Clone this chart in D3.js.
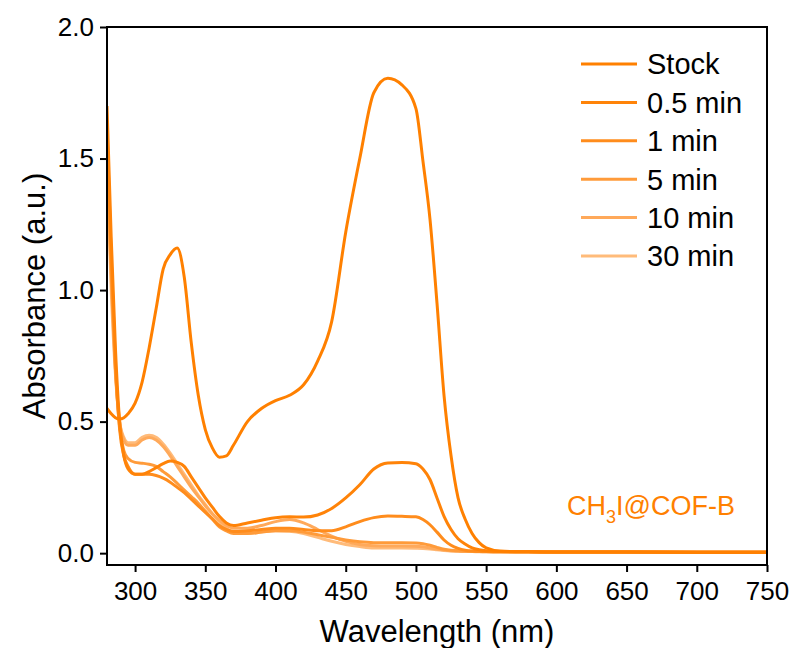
<!DOCTYPE html>
<html>
<head>
<meta charset="utf-8">
<script src="https://cdn.jsdelivr.net/npm/d3@7"></script>
<style>
  html, body { margin: 0; padding: 0; background: #ffffff; }
  svg { display: block; font-family: "Liberation Sans", Arial, sans-serif; }
</style>
</head>
<body>
<svg id="chart" width="793" height="648"></svg>
<script>
// Wavelength grid (nm) shared by all spectra
const wavelength = [280, 283, 286, 289, 292, 295, 300, 305, 310, 315, 320, 325, 330, 335, 340, 345, 350, 355, 360, 365, 370, 380, 390, 400, 410, 420, 430, 440, 450, 460, 470, 480, 490, 500, 505, 510, 515, 520, 525, 530, 535, 540, 545, 550, 560, 580, 600, 650, 700, 750];

// Absorbance (a.u.) for each sampling time
const stock   = [0.55, 0.53, 0.515, 0.51, 0.515, 0.53, 0.57, 0.65, 0.78, 0.93, 1.08, 1.135, 1.16, 1.05, 0.80, 0.60, 0.47, 0.40, 0.365, 0.37, 0.41, 0.50, 0.55, 0.58, 0.60, 0.64, 0.73, 0.88, 1.22, 1.50, 1.75, 1.805, 1.78, 1.69, 1.49, 1.27, 0.95, 0.60, 0.37, 0.21, 0.13, 0.075, 0.04, 0.02, 0.008, 0.005, 0.004, 0.004, 0.003, 0.003];
const min0_5  = [1.70, 1.20, 0.78, 0.50, 0.37, 0.32, 0.30, 0.30, 0.31, 0.325, 0.34, 0.35, 0.345, 0.33, 0.29, 0.25, 0.21, 0.175, 0.14, 0.115, 0.105, 0.115, 0.125, 0.135, 0.138, 0.137, 0.145, 0.17, 0.21, 0.26, 0.32, 0.343, 0.345, 0.34, 0.32, 0.28, 0.21, 0.14, 0.09, 0.055, 0.035, 0.02, 0.013, 0.009, 0.006, 0.005, 0.004, 0.004, 0.003, 0.003];
const min1    = [1.62, 1.12, 0.72, 0.47, 0.37, 0.33, 0.30, 0.30, 0.30, 0.295, 0.285, 0.27, 0.25, 0.23, 0.205, 0.18, 0.155, 0.13, 0.105, 0.09, 0.082, 0.085, 0.09, 0.095, 0.095, 0.09, 0.085, 0.085, 0.10, 0.12, 0.135, 0.141, 0.14, 0.138, 0.128, 0.108, 0.08, 0.05, 0.03, 0.018, 0.011, 0.008, 0.007, 0.006, 0.005, 0.005, 0.004, 0.004, 0.003, 0.003];
const min5    = [1.55, 1.08, 0.70, 0.48, 0.39, 0.36, 0.345, 0.342, 0.338, 0.33, 0.31, 0.29, 0.265, 0.24, 0.215, 0.19, 0.16, 0.13, 0.10, 0.085, 0.075, 0.075, 0.08, 0.085, 0.085, 0.08, 0.07, 0.06, 0.05, 0.043, 0.04, 0.04, 0.04, 0.039, 0.036, 0.03, 0.022, 0.015, 0.011, 0.009, 0.008, 0.007, 0.006, 0.006, 0.005, 0.005, 0.004, 0.004, 0.003, 0.003];
const min10   = [1.50, 1.05, 0.70, 0.50, 0.43, 0.41, 0.41, 0.43, 0.44, 0.43, 0.405, 0.37, 0.33, 0.29, 0.25, 0.215, 0.18, 0.15, 0.125, 0.105, 0.095, 0.095, 0.105, 0.12, 0.128, 0.115, 0.09, 0.065, 0.045, 0.033, 0.028, 0.027, 0.027, 0.026, 0.024, 0.02, 0.016, 0.012, 0.009, 0.008, 0.007, 0.006, 0.006, 0.005, 0.005, 0.005, 0.004, 0.004, 0.003, 0.003];
const min30   = [1.45, 1.00, 0.68, 0.50, 0.44, 0.42, 0.42, 0.44, 0.448, 0.44, 0.415, 0.38, 0.34, 0.30, 0.26, 0.22, 0.185, 0.15, 0.12, 0.095, 0.08, 0.075, 0.08, 0.085, 0.083, 0.075, 0.06, 0.045, 0.033, 0.025, 0.02, 0.02, 0.02, 0.019, 0.018, 0.016, 0.013, 0.01, 0.008, 0.007, 0.006, 0.006, 0.005, 0.005, 0.005, 0.005, 0.004, 0.004, 0.003, 0.003];

const seriesNames  = ["Stock", "0.5 min", "1 min", "5 min", "10 min", "30 min"];
const seriesValues = [stock, min0_5, min1, min5, min10, min30];
const seriesColors = ["#ff8000", "#ff8308", "#ff8c1c", "#ff9b3a", "#ffa95a", "#ffbb7a"];

const xTicks = [300, 350, 400, 450, 500, 550, 600, 650, 700, 750];
const yTicks = [0.0, 0.5, 1.0, 1.5, 2.0];

const svg = d3.select("#chart");
const W = 793, H = 648;
const margin = { top: 27, right: 26, bottom: 83, left: 107 };
const iw = W - margin.left - margin.right;
const ih = H - margin.top - margin.bottom;

const x = d3.scaleLinear().domain([280, 750]).range([0, iw]);
const y = d3.scaleLinear().domain([-0.045, 2.0]).range([ih, 0]);

const g = svg.append("g").attr("transform", `translate(${margin.left},${margin.top})`);

g.append("defs").append("clipPath").attr("id", "plotclip")
  .append("rect").attr("width", iw).attr("height", ih);

// spectra, latest sample drawn first so the stock solution sits on top
const line = d3.line()
  .x(d => x(d[0]))
  .y(d => y(d[1]))
  .curve(d3.curveMonotoneX);

const order = d3.range(seriesValues.length).reverse();
g.append("g").attr("clip-path", "url(#plotclip)")
  .selectAll("path")
  .data(order)
  .join("path")
  .attr("d", i => line(wavelength.map((w, k) => [w, seriesValues[i][k]])))
  .attr("fill", "none")
  .attr("stroke", i => seriesColors[i])
  .attr("stroke-width", 3)
  .attr("stroke-linejoin", "round");

// axes
const xAxis = g.append("g").attr("transform", `translate(0,${ih})`)
  .call(d3.axisBottom(x).tickValues(xTicks).tickSize(7).tickPadding(10).tickFormat(d3.format("d")));
const yAxis = g.append("g")
  .call(d3.axisLeft(y).tickValues(yTicks).tickSize(7).tickPadding(6).tickFormat(d3.format(".1f")));

[xAxis, yAxis].forEach(a => {
  a.select(".domain").remove();
  a.selectAll(".tick line").attr("stroke", "#000").attr("stroke-width", 2);
  a.selectAll(".tick text").attr("fill", "#000").style("font-size", "26px")
    .style("font-family", "'Liberation Sans', Arial, sans-serif");
});

// frame
g.append("rect").attr("width", iw).attr("height", ih)
  .attr("fill", "none").attr("stroke", "#000").attr("stroke-width", 2);

// axis titles
svg.append("text")
  .attr("x", margin.left + iw / 2).attr("y", 642)
  .attr("text-anchor", "middle").style("font-size", "31px").attr("fill", "#000")
  .text("Wavelength (nm)");
svg.append("text")
  .attr("transform", `translate(45,296)rotate(-90)`)
  .attr("text-anchor", "middle").style("font-size", "31px").attr("fill", "#000")
  .text("Absorbance (a.u.)");

// legend
const legend = svg.append("g").attr("transform", "translate(581,64)");
seriesNames.forEach((name, i) => {
  const row = legend.append("g").attr("transform", `translate(0,${i * 38.4})`);
  row.append("line").attr("x1", 0).attr("x2", 56).attr("y1", 0).attr("y2", 0)
    .attr("stroke", seriesColors[i]).attr("stroke-width", 3);
  row.append("text").attr("x", 66).attr("y", 0).attr("dy", "0.36em")
    .style("font-size", "29px").attr("fill", "#000").text(name);
});

// sample label
const label = g.append("text")
  .attr("x", x(750) - 32).attr("y", y(0.145))
  .attr("text-anchor", "end").style("font-size", "27px").attr("fill", "#ff8000");
label.append("tspan").text("CH");
label.append("tspan").attr("dy", 8).style("font-size", "18px").text("3");
label.append("tspan").attr("dy", -8).text("I@COF-B");
</script>
</body>
</html>
